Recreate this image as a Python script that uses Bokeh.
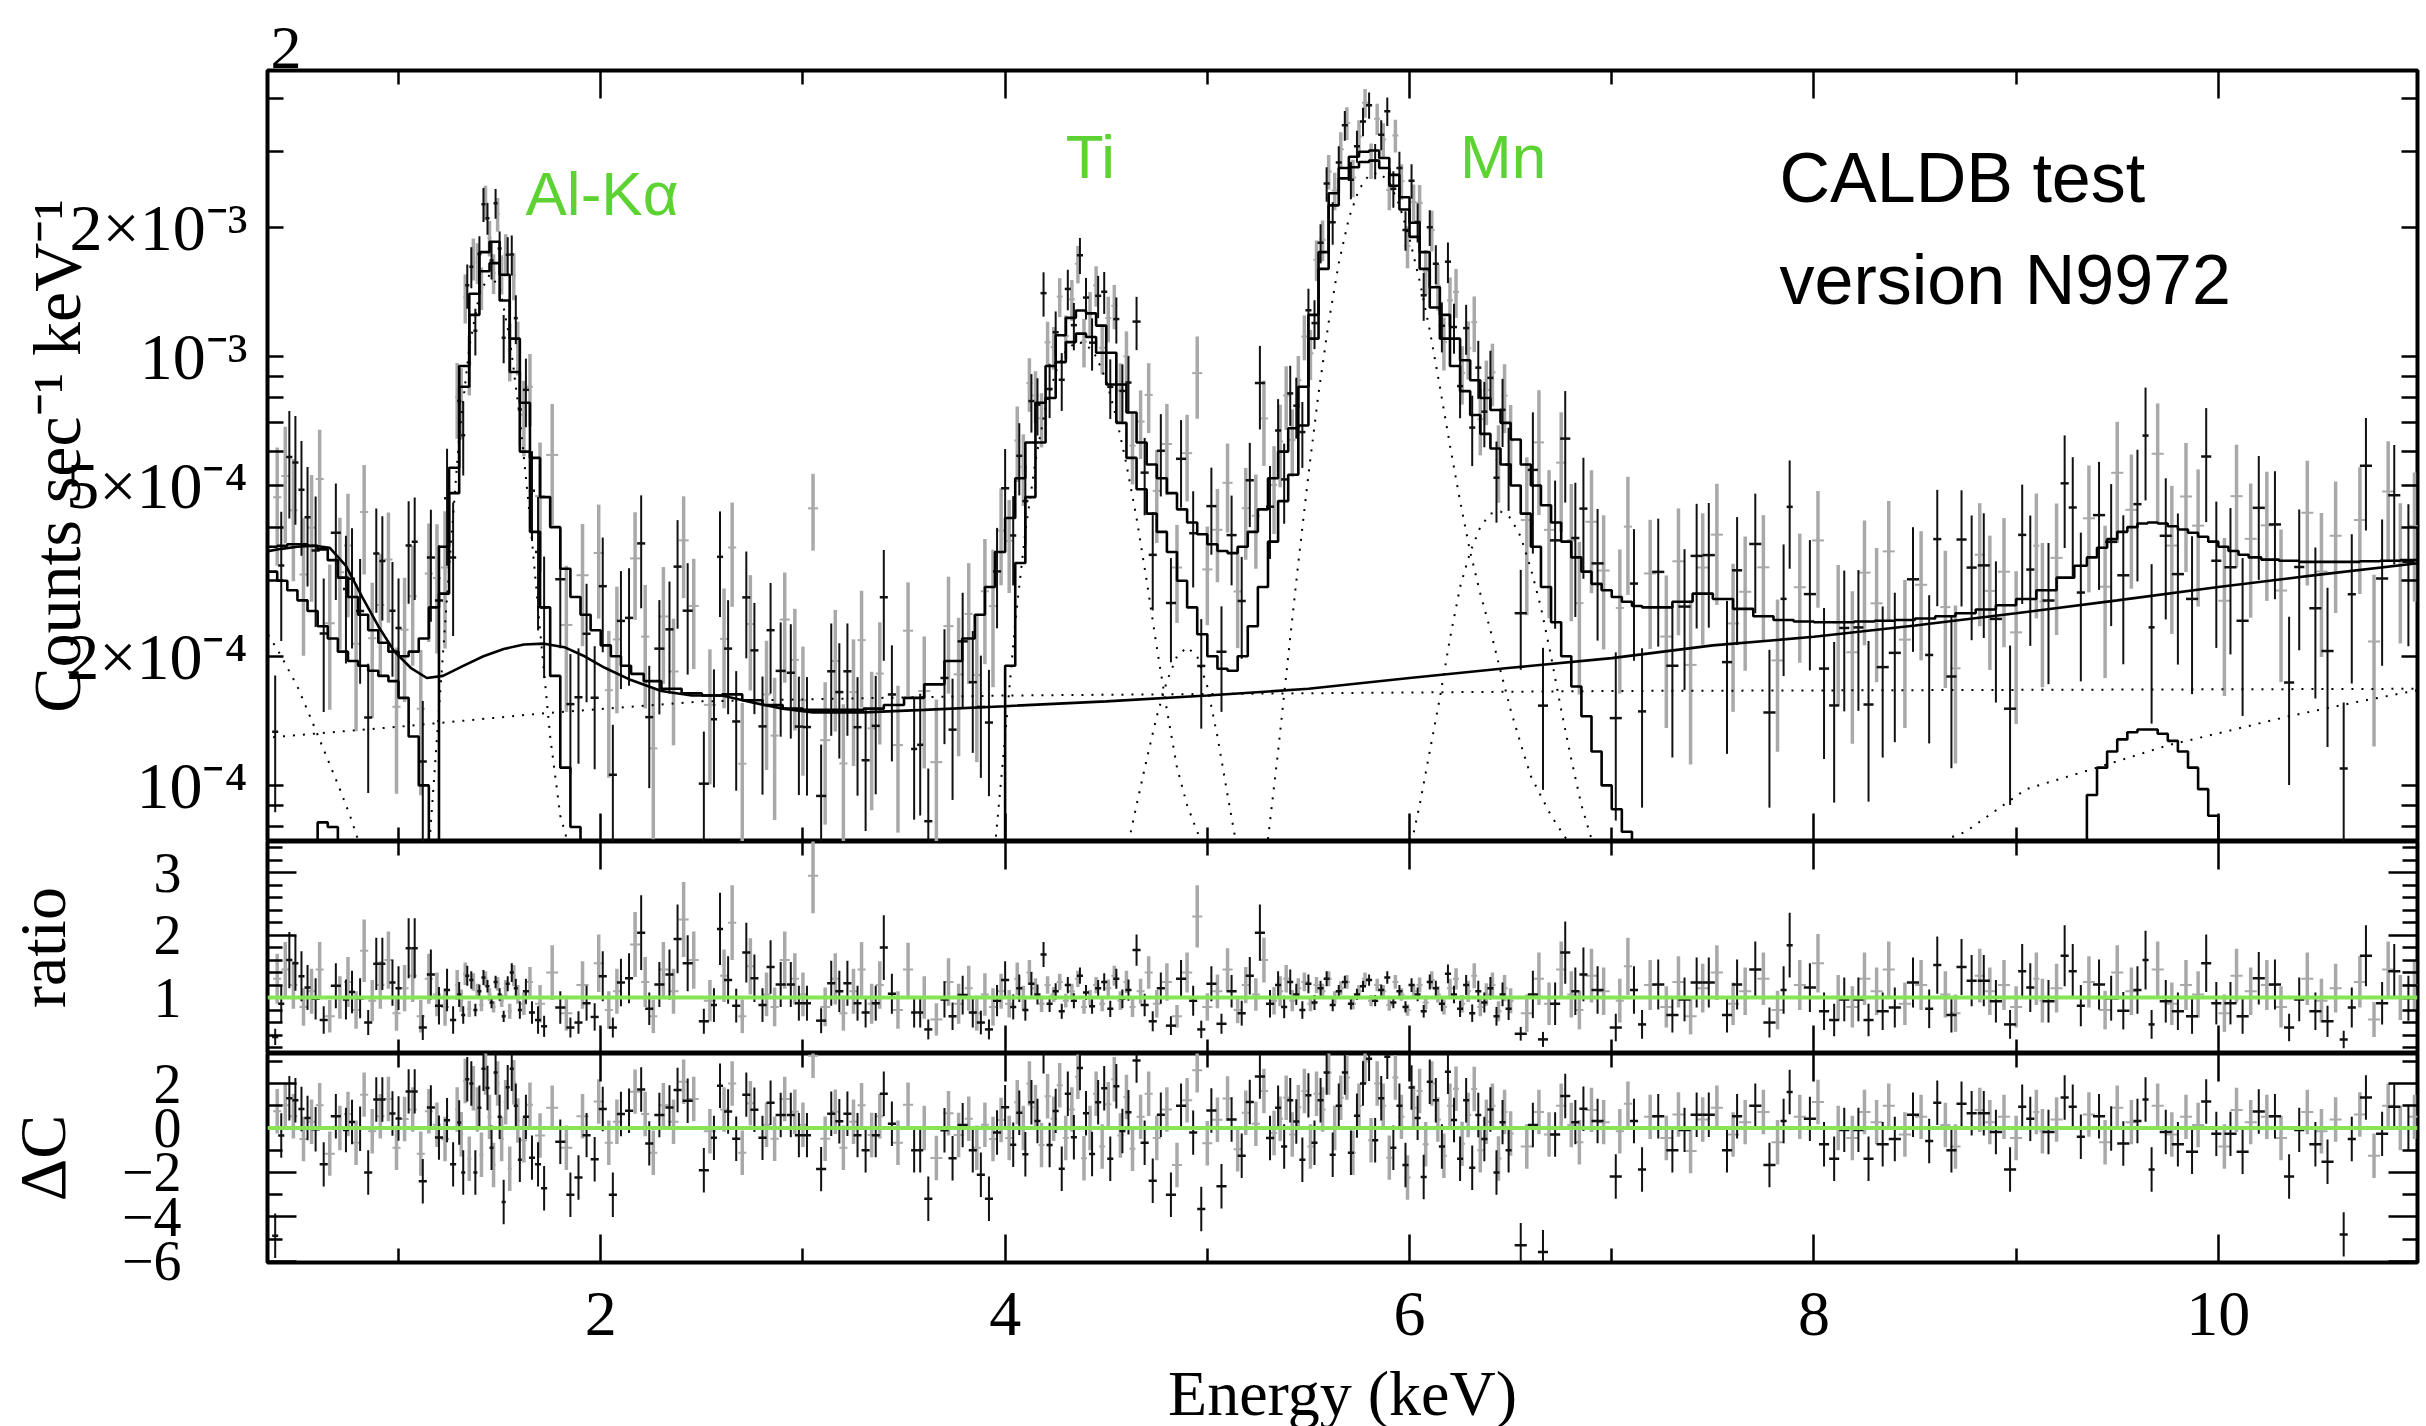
import numpy as np
from bokeh.plotting import figure
from bokeh.models import Range1d, FixedTicker, LinearAxis, LogAxis, Span, Label, ColumnDataSource
from bokeh.layouts import column
from bokeh.embed import file_html
from bokeh.resources import INLINE

# ---------------- ticks ----------------
X_MAJOR = [2, 4, 6, 8, 10]
X_MINOR = [1, 3, 5, 7, 9]
Y_TICKS = [1e-4, 2e-4, 5e-4, 1e-3, 2e-3]
Y_TICK_LABELS = ["10⁻⁴", "2×10⁻⁴", "5×10⁻⁴", "10⁻³", "2×10⁻³"]
Y_MINOR = [8e-5, 9e-5, 3e-4, 4e-4, 6e-4, 7e-4, 8e-4, 9e-4, 3e-3, 4e-3]
R_TICKS = [1, 2, 3]
R_MINOR = [0.2, 0.4, 0.6, 0.8, 1.2, 1.4, 1.6, 1.8, 2.2, 2.4, 2.6, 2.8, 3.2, 3.4]
D_TICKS = [-6, -4, -2, 0, 2]
D_TICK_LABELS = ["−6", "−4", "−2", "0", "2"]
D_MINOR = [-5, -3, -1, 1, 3]

# ---------------- total model (units of 1e-4 counts/s/keV) ----------------
TOT_E1 = [0.325, 0.375, 0.425, 0.475, 0.525, 0.575, 0.625, 0.675, 0.725, 0.775, 0.825,
          0.875, 0.925, 0.975, 1.025, 1.075, 1.125, 1.175, 1.225, 1.275, 1.325,
          1.375, 1.425, 1.475, 1.525, 1.575, 1.625, 1.675, 1.725, 1.775, 1.825,
          1.875, 1.925, 1.975, 2.025, 2.075, 2.125, 2.175]
TOT_V1 = [3.60, 3.60, 3.62, 3.65, 3.65, 3.62, 3.55, 3.35, 3.05, 2.75, 2.50,
          2.30, 2.15, 2.05, 2.00, 2.05, 2.20, 2.60, 3.60, 5.50, 9.50,
          14.0, 17.5, 18.5, 15.5, 11.0, 7.8, 5.8, 4.7, 4.0, 3.2,
          2.75, 2.5, 2.3, 2.12, 2.0, 1.9, 1.82]
TOT_E2 = [2.25, 2.35, 2.45, 2.55, 2.65, 2.75, 2.85, 2.95, 3.05, 3.15, 3.25, 3.35, 3.45, 3.55, 3.65, 3.75]
TOT_V2 = [1.75, 1.68, 1.64, 1.62, 1.63, 1.58, 1.54, 1.51, 1.50, 1.50, 1.50, 1.51, 1.54, 1.60, 1.72, 1.95]
TOT_E3 = [3.825, 3.875, 3.925, 3.975, 4.025, 4.075, 4.125, 4.175, 4.225, 4.275,
          4.325, 4.375, 4.425, 4.475, 4.525, 4.575, 4.625, 4.675, 4.725, 4.775,
          4.825, 4.875, 4.925, 4.975, 5.025, 5.075, 5.125, 5.175, 5.225, 5.275,
          5.325, 5.375, 5.425, 5.475, 5.525, 5.575, 5.625, 5.675, 5.725, 5.775,
          5.825, 5.875, 5.925, 5.975, 6.025, 6.075, 6.125, 6.175, 6.225, 6.275,
          6.325, 6.375, 6.425, 6.475, 6.525, 6.575, 6.625, 6.675, 6.725, 6.775,
          6.825, 6.875, 6.925, 6.975, 7.025, 7.075, 7.125, 7.175]
TOT_V3 = [2.2, 2.5, 2.9, 3.5, 4.2, 5.2, 6.3, 7.8, 9.5, 11.2,
          12.3, 12.8, 12.6, 11.8, 10.2, 8.6, 7.4, 6.3, 5.6, 5.2,
          4.8, 4.4, 4.1, 3.85, 3.65, 3.52, 3.48, 3.6, 3.9, 4.4,
          5.2, 6.0, 6.8, 8.5, 12.5, 17.5, 24.0, 27.5, 29.2, 30.0,
          30.2, 29.0, 26.5, 23.5, 20.5, 17.5, 14.5, 12.5, 11.0, 9.8,
          8.8, 8.0, 7.5, 7.0, 6.4, 5.6, 5.0, 4.5, 4.1, 3.7,
          3.4, 3.15, 2.95, 2.85, 2.75, 2.68, 2.62, 2.6]
TOT_E4 = [7.25, 7.35, 7.45, 7.55, 7.65, 7.75, 7.85, 7.95, 8.05, 8.15, 8.25,
          8.35, 8.45, 8.55, 8.65, 8.75, 8.85, 8.95, 9.05, 9.15, 9.25]
TOT_V4 = [2.6, 2.68, 2.8, 2.72, 2.58, 2.48, 2.43, 2.41, 2.4, 2.4, 2.41,
          2.42, 2.43, 2.45, 2.48, 2.52, 2.57, 2.63, 2.72, 2.85, 3.05]
TOT_E5 = [9.325, 9.375, 9.425, 9.475, 9.525, 9.575, 9.625, 9.675, 9.725, 9.775,
          9.825, 9.875, 9.925, 9.975, 10.025, 10.075, 10.125, 10.175]
TOT_V5 = [3.25, 3.4, 3.58, 3.75, 3.9, 4.0, 4.08, 4.1, 4.08, 4.02,
          3.95, 3.88, 3.8, 3.7, 3.6, 3.52, 3.45, 3.4]
TOT_E6 = [10.25, 10.35, 10.45, 10.55, 10.65, 10.75, 10.85, 10.95, 11.05]
TOT_V6 = [3.36, 3.34, 3.32, 3.32, 3.32, 3.33, 3.34, 3.35, 3.36]

# ---------------- line-only model (1e-4 units; 0.5 = below panel) ----------------
LIN_E1 = [0.325, 0.375, 0.425, 0.475, 0.525, 0.575, 0.625, 0.675, 0.725, 0.775,
          0.825, 0.875, 0.925, 0.975, 1.025, 1.075, 1.125, 1.175, 1.225, 1.275,
          1.325, 1.375, 1.425, 1.475, 1.525, 1.575, 1.625, 1.675, 1.725, 1.775,
          1.825, 1.875, 1.925]
LIN_V1 = [3.2, 3.15, 3.0, 2.85, 2.7, 2.55, 2.35, 2.2, 2.05, 1.95,
          1.9, 1.85, 1.8, 1.75, 1.6, 1.3, 1.0, 0.5, 2.8, 4.8,
          8.5, 12.5, 15.8, 16.5, 13.5, 9.2, 6.0, 3.9, 2.6, 1.8,
          1.1, 0.8, 0.5]
LIN_E2 = [3.925, 3.975, 4.025, 4.075, 4.125, 4.175, 4.225, 4.275, 4.325, 4.375,
          4.425, 4.475, 4.525, 4.575, 4.625, 4.675, 4.725, 4.775, 4.825, 4.875,
          4.925, 4.975, 5.025, 5.075, 5.125, 5.175, 5.225, 5.275, 5.325, 5.375,
          5.425, 5.475, 5.525, 5.575, 5.625, 5.675, 5.725, 5.775, 5.825, 5.875,
          5.925, 5.975, 6.025, 6.075, 6.125, 6.175, 6.225, 6.275, 6.325, 6.375,
          6.425, 6.475, 6.525, 6.575, 6.625, 6.675, 6.725, 6.775, 6.825, 6.875,
          6.925, 6.975, 7.025, 7.075, 7.125]
LIN_V2 = [0.5, 0.7, 1.9, 3.3, 4.7, 6.3, 8.0, 9.7, 10.8, 11.3,
          11.1, 10.2, 8.6, 7.0, 5.8, 4.9, 4.3, 3.9, 3.5, 3.0,
          2.6, 2.25, 2.0, 1.87, 1.85, 2.0, 2.35, 2.9, 3.7, 4.6,
          5.3, 6.9, 11.0, 16.0, 22.5, 26.0, 27.6, 28.4, 28.6, 27.5,
          25.0, 22.0, 19.0, 16.0, 13.0, 11.0, 9.5, 8.3, 7.3, 6.6,
          6.1, 5.6, 5.0, 4.3, 3.6, 2.9, 2.4, 2.0, 1.7, 1.45,
          1.2, 1.0, 0.88, 0.78, 0.5]
LIN_E3 = [9.325, 9.375, 9.425, 9.475, 9.525, 9.575, 9.625, 9.675, 9.725, 9.775,
          9.825, 9.875, 9.925, 9.975, 10.025]
LIN_V3 = [0.5, 0.95, 1.1, 1.2, 1.28, 1.33, 1.35, 1.35, 1.32, 1.27,
          1.2, 1.1, 0.98, 0.85, 0.5]
SMALL_E = [0.575, 0.625, 0.675, 0.725]
SMALL_V = [0.5, 0.82, 0.8, 0.5]

# ---------------- smooth continuum (1e-4 units) ----------------
CONT_E = [0.33, 0.42, 0.5, 0.58, 0.66, 0.74, 0.82, 0.9, 0.98, 1.06,
          1.14, 1.22, 1.32, 1.42, 1.52, 1.62, 1.72, 1.82, 1.92, 2.02,
          2.15, 2.3, 2.45, 2.6, 2.75, 2.9, 3.05, 3.3, 3.6, 4.0,
          4.5, 5.0, 5.5, 6.0, 6.5, 7.0, 7.5, 8.0, 8.5, 9.0,
          9.5, 10.0, 10.5, 11.05]
CONT_V = [3.5, 3.56, 3.6, 3.62, 3.58, 3.25, 2.75, 2.35, 2.05, 1.88,
          1.78, 1.8, 1.9, 2.0, 2.08, 2.13, 2.14, 2.1, 2.0, 1.88,
          1.76, 1.66, 1.62, 1.62, 1.56, 1.51, 1.48, 1.48, 1.5, 1.53,
          1.57, 1.62, 1.68, 1.78, 1.88, 1.98, 2.12, 2.22, 2.36, 2.52,
          2.7, 2.9, 3.1, 3.32]

# ---------------- dotted components (1e-4 units) ----------------
DOT_FLAT_E = [0.33, 1.0, 1.7, 2.5, 4.0, 7.0, 11.05]
DOT_FLAT_V = [1.29, 1.37, 1.47, 1.57, 1.62, 1.66, 1.68]
DOT_RISE_E = [8.5, 8.75, 9.05, 9.4, 9.75, 10.05, 10.35, 10.7, 11.05]
DOT_RISE_V = [0.7, 0.78, 0.98, 1.1, 1.24, 1.34, 1.45, 1.57, 1.69]
DOT_LOW_E = [0.33, 0.42, 0.5, 0.57, 0.64, 0.71, 0.76, 0.82]
DOT_LOW_V = [2.35, 2.0, 1.7, 1.42, 1.18, 0.98, 0.85, 0.7]
DOT_AL_E = [1.15, 1.2, 1.25, 1.3, 1.35, 1.4, 1.45, 1.5, 1.55, 1.6, 1.65, 1.7, 1.75, 1.8, 1.85]
DOT_AL_V = [0.7, 1.5, 3.2, 6.5, 10.5, 14.0, 15.5, 14.5, 11.0, 7.2, 4.2, 2.3, 1.3, 0.85, 0.7]
DOT_TIKA_E = [3.95, 4.0, 4.05, 4.1, 4.15, 4.2, 4.25, 4.3, 4.35, 4.4, 4.45,
              4.5, 4.55, 4.6, 4.65, 4.7, 4.75, 4.8, 4.85, 4.9, 4.95, 5.0]
DOT_TIKA_V = [0.72, 1.3, 2.4, 3.9, 5.7, 7.6, 9.2, 10.3, 10.8, 10.7, 10.0,
              8.8, 7.2, 5.6, 4.2, 3.0, 2.1, 1.5, 1.1, 0.9, 0.78, 0.7]
DOT_TIKB_E = [4.6, 4.65, 4.7, 4.75, 4.8, 4.85, 4.9, 4.95, 5.0, 5.05, 5.1, 5.15]
DOT_TIKB_V = [0.7, 0.9, 1.15, 1.45, 1.75, 2.0, 2.1, 2.0, 1.7, 1.3, 0.95, 0.7]
DOT_MNKA_E = [5.3, 5.35, 5.4, 5.45, 5.5, 5.55, 5.6, 5.65, 5.7, 5.75,
              5.8, 5.85, 5.9, 5.95, 6.0, 6.05, 6.1, 6.15, 6.2, 6.25,
              6.3, 6.35, 6.4, 6.45, 6.5, 6.55, 6.6, 6.7, 6.8]
DOT_MNKA_V = [0.75, 1.2, 2.0, 3.3, 5.3, 8.2, 12.0, 16.5, 21.0, 24.5,
              26.5, 26.8, 25.5, 22.5, 18.8, 15.0, 11.5, 8.5, 6.2, 4.6,
              3.5, 2.8, 2.3, 1.85, 1.5, 1.25, 1.05, 0.85, 0.72]
DOT_MNKB_E = [6.0, 6.05, 6.1, 6.15, 6.2, 6.25, 6.3, 6.35, 6.4, 6.45,
              6.5, 6.55, 6.6, 6.65, 6.7, 6.75, 6.8, 6.85, 6.9, 6.95]
DOT_MNKB_V = [0.7, 0.9, 1.2, 1.6, 2.2, 2.9, 3.5, 4.0, 4.3, 4.35,
              4.2, 3.8, 3.2, 2.6, 2.0, 1.5, 1.15, 0.9, 0.75, 0.65]

# ---------------- data set 1 (black): energy, ratio to model, ratio error ----------------
D1_E = [0.39, 0.42, 0.46, 0.49, 0.52, 0.55, 0.59, 0.63, 0.69, 0.74, 0.77, 0.81, 0.85, 0.89, 0.92, 0.97,
        1.00, 1.05, 1.08, 1.12, 1.16, 1.20, 1.24, 1.27,
        1.30, 1.32, 1.34, 1.36, 1.38, 1.40, 1.42, 1.44, 1.46, 1.48, 1.50, 1.52, 1.54, 1.56, 1.58, 1.60, 1.63, 1.66,
        1.69, 1.72, 1.80, 1.85, 1.89, 1.93, 1.97, 2.01, 2.06, 2.10, 2.14, 2.20, 2.24, 2.29, 2.34, 2.38,
        2.43, 2.51, 2.56, 2.59, 2.63, 2.67, 2.72, 2.76, 2.80, 2.84, 2.89, 2.94, 2.98, 3.02, 3.09, 3.14,
        3.18, 3.22, 3.27, 3.31, 3.36, 3.40, 3.44, 3.55, 3.58, 3.62, 3.70, 3.74, 3.79, 3.84, 3.88, 3.92,
        3.96, 4.00, 4.04, 4.07, 4.10, 4.13, 4.16, 4.19, 4.22, 4.25, 4.28, 4.31, 4.34, 4.37, 4.40, 4.43,
        4.46, 4.49, 4.52, 4.55, 4.58, 4.61, 4.65, 4.69, 4.73,
        4.77, 4.82, 4.87, 4.93, 4.97, 5.02, 5.07, 5.12, 5.17, 5.21, 5.26, 5.31,
        5.35, 5.38, 5.41, 5.44, 5.47, 5.50, 5.53, 5.56, 5.59, 5.62, 5.65, 5.68, 5.71, 5.74, 5.77, 5.80,
        5.83, 5.86, 5.89, 5.92, 5.95, 5.98, 6.01, 6.04, 6.07, 6.10, 6.13, 6.16, 6.19, 6.22, 6.25, 6.28,
        6.31, 6.34, 6.37, 6.40, 6.43, 6.46, 6.49,
        6.55, 6.61, 6.66, 6.72, 6.77, 6.82, 6.86, 6.93, 7.02, 7.11,
        7.15, 7.23, 7.30, 7.36, 7.42, 7.48, 7.57, 7.62, 7.71, 7.78,
        7.85, 7.88, 7.98, 8.05, 8.10, 8.15, 8.22, 8.27, 8.34, 8.40,
        8.49, 8.57, 8.61, 8.68, 8.73, 8.78, 8.84, 8.90, 8.97, 9.03,
        9.07, 9.16, 9.24, 9.28, 9.32, 9.41, 9.47, 9.53, 9.60, 9.64,
        9.67, 9.74, 9.80, 9.87, 9.94, 9.99, 10.06, 10.12, 10.20, 10.28,
        10.35, 10.40, 10.48, 10.54, 10.62, 10.66, 10.73, 10.81, 10.87, 10.94]
D1_R = [0.37, 0.90, 1.60, 1.55, 1.34, 1.16, 0.98, 0.64, 1.19, 0.97, 1.09, 0.99, 0.60, 1.54, 1.54, 1.24,
        1.15, 1.79, 1.79, 0.52, 1.37, 0.87, 1.12, 0.64,
        1.05, 0.72, 1.35, 1.28, 0.80, 1.10, 1.32, 1.18, 0.92, 1.25, 1.05, 0.70, 1.22, 1.40, 1.15, 0.80, 1.10, 0.76,
        0.64, 0.54, 0.84, 0.52, 0.60, 0.91, 0.69, 1.34, 0.52, 1.24, 1.31, 2.04, 0.82, 1.21, 1.37, 1.94,
        1.55, 0.62, 0.88, 2.10, 1.28, 0.87, 1.72, 1.31, 0.88, 1.49, 1.21, 1.21, 0.91, 0.91, 0.63, 1.23,
        1.10, 1.23, 0.91, 0.76, 0.91, 1.80, 1.06, 0.76, 0.76, 0.49, 0.97, 0.70, 1.04, 0.76, 0.60, 0.49,
        0.95, 1.28, 0.85, 1.15, 0.80, 1.22, 1.05, 1.69, 0.90, 1.10, 0.78, 1.20, 0.95, 1.35, 1.08, 0.86,
        1.15, 1.25, 0.82, 1.30, 0.98, 1.12, 1.76, 0.88, 0.62,
        1.15, 0.55, 1.30, 0.95, 0.49, 1.22, 0.58, 1.10, 0.75, 1.35, 2.04, 0.90,
        1.20, 0.85, 1.25, 1.05, 0.80, 1.22, 0.92, 1.15, 1.30, 0.88, 1.10, 1.25, 0.90, 1.05, 1.18, 1.28,
        0.95, 1.12, 1.32, 0.92, 1.10, 0.85, 1.20, 1.05, 0.78, 1.25, 1.15, 0.90, 1.38, 1.05, 0.82, 1.20,
        0.75, 1.10, 0.92, 1.15, 0.70, 1.05, 0.82,
        0.42, 1.05, 0.33, 0.90, 1.72, 1.10, 1.37, 1.12, 0.52, 1.12,
        0.57, 1.21, 0.72, 0.97, 1.24, 1.24, 0.72, 1.21, 1.45, 0.60,
        1.12, 1.84, 1.16, 0.78, 0.64, 0.97, 0.97, 0.64, 0.78, 0.84,
        1.24, 0.82, 1.52, 0.72, 1.49, 1.27, 1.27, 0.94, 0.57, 1.42,
        1.16, 0.94, 1.67, 1.42, 0.87, 1.21, 0.99, 0.79, 1.12, 1.60,
        0.57, 0.94, 0.78, 0.70, 1.55, 0.91, 0.91, 0.70, 1.31, 1.21,
        0.52, 0.97, 0.78, 0.62, 0.33, 0.84, 1.67, 0.91, 1.42, 0.99]
D1_S = [0.13, 0.30, 0.45, 0.44, 0.40, 0.36, 0.33, 0.22, 0.36, 0.32, 0.34, 0.32, 0.20, 0.42, 0.42, 0.37,
        0.35, 0.48, 0.48, 0.20, 0.40, 0.30, 0.34, 0.22,
        0.20, 0.14, 0.16, 0.14, 0.10, 0.11, 0.12, 0.10, 0.09, 0.10, 0.10, 0.09, 0.12, 0.15, 0.15, 0.14, 0.20, 0.18,
        0.22, 0.17, 0.26, 0.16, 0.18, 0.28, 0.22, 0.40, 0.16, 0.38, 0.40, 0.60, 0.26, 0.36, 0.40, 0.55,
        0.45, 0.20, 0.27, 0.58, 0.38, 0.27, 0.48, 0.38, 0.27, 0.43, 0.36, 0.36, 0.28, 0.28, 0.20, 0.36,
        0.33, 0.36, 0.28, 0.24, 0.28, 0.52, 0.32, 0.24, 0.24, 0.16, 0.29, 0.22, 0.31, 0.24, 0.19, 0.16,
        0.25, 0.30, 0.20, 0.22, 0.17, 0.19, 0.16, 0.20, 0.13, 0.13, 0.12, 0.13, 0.12, 0.13, 0.12, 0.12,
        0.13, 0.14, 0.13, 0.16, 0.15, 0.17, 0.25, 0.18, 0.16,
        0.25, 0.15, 0.30, 0.24, 0.14, 0.28, 0.16, 0.26, 0.20, 0.30, 0.45, 0.22,
        0.22, 0.18, 0.20, 0.17, 0.14, 0.15, 0.12, 0.12, 0.12, 0.10, 0.10, 0.10, 0.09, 0.09, 0.09, 0.09,
        0.09, 0.09, 0.10, 0.09, 0.10, 0.09, 0.11, 0.11, 0.10, 0.12, 0.12, 0.12, 0.15, 0.14, 0.13, 0.16,
        0.14, 0.17, 0.16, 0.18, 0.15, 0.19, 0.18,
        0.11, 0.38, 0.12, 0.34, 0.50, 0.38, 0.43, 0.38, 0.22, 0.38,
        0.23, 0.40, 0.28, 0.35, 0.40, 0.40, 0.28, 0.40, 0.45, 0.24,
        0.38, 0.52, 0.39, 0.30, 0.26, 0.35, 0.35, 0.26, 0.30, 0.32,
        0.40, 0.31, 0.46, 0.28, 0.45, 0.41, 0.41, 0.34, 0.23, 0.44,
        0.39, 0.34, 0.49, 0.44, 0.33, 0.40, 0.36, 0.30, 0.38, 0.47,
        0.23, 0.34, 0.30, 0.28, 0.46, 0.34, 0.34, 0.28, 0.42, 0.40,
        0.22, 0.35, 0.30, 0.25, 0.14, 0.32, 0.49, 0.34, 0.44, 0.36]

# ---------------- data set 2 (grey) ----------------
D2_E = [0.40, 0.44, 0.48, 0.53, 0.57, 0.61, 0.66, 0.71, 0.75, 0.79, 0.83, 0.87, 0.91, 0.95, 0.99, 1.03,
        1.07, 1.11, 1.15, 1.19, 1.23,
        1.29, 1.31, 1.33, 1.35, 1.37, 1.39, 1.41, 1.43, 1.45, 1.47, 1.49, 1.51, 1.53, 1.55, 1.57, 1.59, 1.62, 1.65,
        1.70, 1.76, 1.83, 1.91, 1.99, 2.04, 2.08, 2.17, 2.22, 2.26, 2.31, 2.36, 2.41, 2.46, 2.54, 2.61,
        2.65, 2.70, 2.74, 2.82, 2.86, 2.91, 2.96, 3.00, 3.05, 3.11, 3.16, 3.20, 3.25, 3.29, 3.34, 3.38,
        3.47, 3.52, 3.60, 3.66, 3.72, 3.77, 3.82, 3.86, 3.90, 3.94,
        3.98, 4.02, 4.06, 4.09, 4.12, 4.15, 4.18, 4.21, 4.24, 4.27, 4.30, 4.33, 4.36, 4.39, 4.42, 4.45,
        4.48, 4.51, 4.54, 4.57, 4.60, 4.63, 4.67, 4.71,
        4.75, 4.80, 4.85, 4.90, 4.95, 5.00, 5.05, 5.10, 5.15, 5.19, 5.24, 5.28, 5.33,
        5.36, 5.39, 5.42, 5.45, 5.48, 5.51, 5.54, 5.57, 5.60, 5.63, 5.66, 5.69, 5.72, 5.75, 5.78, 5.81,
        5.84, 5.87, 5.90, 5.93, 5.96, 5.99, 6.02, 6.05, 6.08, 6.11, 6.14, 6.17, 6.20, 6.23, 6.26, 6.29,
        6.32, 6.35, 6.38, 6.41, 6.44, 6.47, 6.50,
        6.58, 6.64, 6.69, 6.75, 6.80, 6.84, 6.90, 6.96, 7.04, 7.08,
        7.19, 7.27, 7.33, 7.39, 7.45, 7.52, 7.60, 7.66, 7.75, 7.82,
        7.93, 8.02, 8.12, 8.19, 8.25, 8.31, 8.37, 8.45, 8.53, 8.65,
        8.70, 8.82, 8.87, 8.94, 9.00, 9.10, 9.13, 9.20, 9.36, 9.44,
        9.50, 9.57, 9.70, 9.77, 9.84, 9.90, 10.03, 10.09, 10.16, 10.24,
        10.31, 10.44, 10.51, 10.58, 10.70, 10.77, 10.84, 10.90, 10.97]
D2_R = [1.30, 1.45, 1.20, 0.85, 1.10, 1.45, 0.70, 1.00, 1.25, 0.80, 1.75, 0.95, 1.20, 1.60, 0.75, 1.15,
        1.35, 0.70, 1.30, 1.05, 0.85,
        1.20, 0.95, 1.38, 0.82, 1.25, 1.10, 0.88, 1.30, 1.05, 0.85, 1.22, 0.95, 1.15, 0.78, 1.35, 1.05, 0.90, 1.25,
        0.90, 1.40, 0.75, 1.20, 1.55, 0.80, 1.10, 1.85, 1.25, 0.70, 1.45, 1.10, 2.25, 1.60, 0.95, 1.35,
        2.20, 0.70, 1.50, 1.05, 0.85, 1.60, 1.30, 1.05, 2.95, 0.85, 1.30, 0.75, 1.10, 1.45, 0.90, 1.20,
        0.80, 1.45, 1.00, 0.65, 1.25, 0.90, 1.15, 0.75, 1.05, 0.85,
        1.10, 0.90, 1.30, 1.00, 1.40, 1.15, 0.90, 1.20, 1.05, 1.25, 0.95, 1.10, 1.30, 0.85, 1.00, 1.20,
        0.90, 1.15, 1.35, 0.95, 1.25, 0.85, 1.10, 1.40,
        0.90, 1.25, 0.70, 1.40, 2.30, 0.85, 1.10, 1.45, 0.80, 1.20, 1.05, 1.60, 0.95,
        1.10, 1.30, 0.95, 1.15, 1.25, 0.90, 1.20, 1.10, 1.30, 1.00, 1.15, 1.25, 0.90, 1.10, 1.30, 0.95,
        1.20, 1.10, 0.88, 1.25, 1.05, 0.80, 1.10, 1.20, 0.92, 1.28, 1.05, 0.85, 1.15, 1.30, 0.90, 1.10,
        1.35, 0.85, 1.05, 1.20, 0.78, 1.15, 0.95,
        0.75, 1.30, 0.90, 1.45, 1.05, 0.80, 1.35, 1.10, 0.95, 1.50,
        1.20, 0.85, 1.25, 0.70, 1.15, 1.40, 0.90, 1.10, 1.30, 0.80,
        1.20, 1.55, 1.00, 0.85, 1.30, 1.10, 1.45, 0.90, 1.20, 1.05,
        0.75, 1.35, 1.10, 1.20, 0.85, 1.30, 0.95, 1.15, 1.25, 0.80,
        1.40, 1.10, 1.45, 0.90, 1.20, 1.05, 0.75, 1.35, 1.10, 1.20,
        0.85, 1.30, 0.95, 1.15, 1.25, 0.65, 1.45, 1.00, 1.20]
D2_S = [0.40, 0.44, 0.38, 0.30, 0.36, 0.44, 0.26, 0.34, 0.40, 0.30, 0.50, 0.33, 0.38, 0.46, 0.28, 0.37,
        0.42, 0.26, 0.40, 0.35, 0.30,
        0.24, 0.18, 0.18, 0.13, 0.14, 0.12, 0.10, 0.12, 0.10, 0.09, 0.11, 0.10, 0.13, 0.12, 0.17, 0.15, 0.18, 0.24,
        0.30, 0.44, 0.28, 0.38, 0.46, 0.30, 0.36, 0.52, 0.40, 0.27, 0.44, 0.36, 0.60, 0.46, 0.33, 0.42,
        0.60, 0.27, 0.45, 0.35, 0.31, 0.46, 0.41, 0.35, 0.60, 0.31, 0.41, 0.28, 0.36, 0.44, 0.32, 0.38,
        0.30, 0.43, 0.34, 0.26, 0.38, 0.32, 0.36, 0.28, 0.34, 0.30,
        0.28, 0.22, 0.26, 0.19, 0.20, 0.16, 0.13, 0.14, 0.12, 0.13, 0.11, 0.12, 0.13, 0.11, 0.12, 0.13,
        0.12, 0.14, 0.16, 0.15, 0.18, 0.16, 0.20, 0.26,
        0.22, 0.30, 0.18, 0.32, 0.50, 0.22, 0.27, 0.34, 0.21, 0.29, 0.26, 0.36, 0.22,
        0.24, 0.22, 0.17, 0.16, 0.15, 0.12, 0.13, 0.12, 0.12, 0.10, 0.11, 0.11, 0.09, 0.10, 0.10, 0.09,
        0.10, 0.10, 0.09, 0.11, 0.10, 0.09, 0.11, 0.12, 0.11, 0.14, 0.13, 0.12, 0.15, 0.17, 0.14, 0.17,
        0.20, 0.15, 0.18, 0.20, 0.16, 0.21, 0.20,
        0.30, 0.42, 0.34, 0.45, 0.37, 0.31, 0.43, 0.38, 0.35, 0.46,
        0.40, 0.33, 0.41, 0.29, 0.39, 0.44, 0.34, 0.38, 0.42, 0.31,
        0.40, 0.47, 0.36, 0.33, 0.42, 0.38, 0.45, 0.34, 0.40, 0.37,
        0.30, 0.43, 0.38, 0.40, 0.33, 0.42, 0.35, 0.39, 0.41, 0.31,
        0.44, 0.38, 0.45, 0.34, 0.40, 0.37, 0.30, 0.43, 0.38, 0.40,
        0.33, 0.42, 0.35, 0.39, 0.41, 0.28, 0.45, 0.36, 0.40]

UNIT = 1e-4
GREEN_TEXT = "#5cd332"
GREEN_LINE = "#86e455"
SERIF = "Liberation Serif"
SANS = "Liberation Sans"


def arr(v):
    return np.asarray(v, dtype=float)


TOT_E = arr(TOT_E1 + TOT_E2 + TOT_E3 + TOT_E4 + TOT_E5 + TOT_E6)
TOT = arr(TOT_V1 + TOT_V2 + TOT_V3 + TOT_V4 + TOT_V5 + TOT_V6) * UNIT


def build(E, R, S):
    E, R, S = arr(E), arr(R), arr(S)
    n = min(len(E), len(R), len(S))
    E, R, S = E[:n], R[:n], S[:n]
    o = np.argsort(E)
    E, R, S = E[o], R[o], S[o]
    m = np.interp(E, TOT_E, TOT)
    y = R * m
    dy = S * m
    g = np.diff(E)
    gl = np.concatenate([[g[0]], g])
    gr = np.concatenate([g, [g[-1]]])
    hw = np.minimum(0.5 * np.minimum(gl, gr), 0.03)
    d = (R - 1.0) / S
    return ColumnDataSource(dict(E=E, xl=E - hw, xr=E + hw, y=y, ylo=np.maximum(y - dy, 1e-7),
                                 yhi=y + dy, r=R, rlo=R - S, rhi=R + S, d=d, dlo=d - 1.0, dhi=d + 1.0))


SRC1 = build(D1_E, D1_R, D1_S)
SRC2 = build(D2_E, D2_R, D2_S)

XR = Range1d(0.352, 10.985)
COMMON = dict(frame_width=2150, x_range=XR, output_backend="svg", toolbar_location=None,
              min_border_left=267, min_border_right=4,
              background_fill_color="white", border_fill_color="white")

p1 = figure(frame_height=771, y_axis_type="log", y_range=Range1d(7.4e-5, 4.64e-3),
            min_border_top=70, min_border_bottom=0, **COMMON)
p2 = figure(frame_height=212, y_range=Range1d(0.104, 3.5), min_border_top=0, min_border_bottom=0, **COMMON)
p3 = figure(frame_height=209, y_range=Range1d(-6.05, 3.35), min_border_top=0, min_border_bottom=0, **COMMON)


def tick_style(ax, major, minor, tin, mtin):
    ax.ticker = FixedTicker(ticks=major, minor_ticks=minor)
    ax.axis_line_color = None
    ax.major_tick_in = tin
    ax.major_tick_out = 0
    ax.minor_tick_in = mtin
    ax.minor_tick_out = 0
    ax.major_tick_line_width = 2.5
    ax.minor_tick_line_width = 2.5
    ax.major_tick_line_color = "black"
    ax.minor_tick_line_color = "black"


def hide_labels(ax):
    ax.major_label_text_font_size = "0px"
    ax.major_label_text_color = None
    ax.major_label_standoff = 0
    ax.axis_label = None


def show_labels(ax, standoff, size="60px"):
    ax.major_label_text_font = SERIF
    ax.major_label_text_font_size = size
    ax.major_label_text_color = "black"
    ax.major_label_standoff = standoff


def axis_title(ax, text, size, standoff):
    ax.axis_label = text
    ax.axis_label_text_font = SERIF
    ax.axis_label_text_font_size = size
    ax.axis_label_text_font_style = "normal"
    ax.axis_label_text_color = "black"
    ax.axis_label_standoff = standoff


for p in (p1, p2, p3):
    p.grid.visible = False
    p.outline_line_color = "black"
    p.outline_line_width = 4
    p.add_layout(LinearAxis(), "above")
    if p is p1:
        p.add_layout(LogAxis(), "right")
    else:
        p.add_layout(LinearAxis(), "right")
    for ax in p.above + p.below:
        tick_style(ax, X_MAJOR, X_MINOR, 28, 14)
    for ax in p.above:
        hide_labels(ax)
    for ax in p.right:
        hide_labels(ax)

for ax in p1.below + p2.below:
    hide_labels(ax)

tick_style(p1.left[0], Y_TICKS, Y_MINOR, 16, 16)
tick_style(p1.right[0], Y_TICKS, Y_MINOR, 16, 16)
tick_style(p2.left[0], R_TICKS, R_MINOR, 29, 15)
tick_style(p2.right[0], R_TICKS, R_MINOR, 29, 15)
tick_style(p3.left[0], D_TICKS, D_MINOR, 29, 15)
tick_style(p3.right[0], D_TICKS, D_MINOR, 29, 15)

ax = p1.left[0]
show_labels(ax, 20, "66px")
ax.major_label_overrides = dict(zip(Y_TICKS, Y_TICK_LABELS))
axis_title(ax, "Counts sec⁻¹ keV⁻¹", "68px", -32)

ax = p2.left[0]
show_labels(ax, 86, "56px")
axis_title(ax, "ratio", "66px", 72)

ax = p3.left[0]
show_labels(ax, 86, "56px")
ax.major_label_overrides = dict(zip(D_TICKS, D_TICK_LABELS))
axis_title(ax, "ΔC", "66px", 40)

ax = p3.below[0]
show_labels(ax, 30, "64px")
axis_title(ax, "Energy (keV)", "64px", 20)

# fragment of a label visible above the top-left corner
p1.title.text = "2"
p1.title.text_font = SERIF
p1.title.text_font_size = "62px"
p1.title.text_font_style = "normal"
p1.title.text_color = "black"
p1.title.align = "left"
p1.title.offset = 3
p1.title.standoff = 6

GREY = "#a9a9a9"
BLACK = "#111111"

# data points
for p, yk, lo, hi in ((p1, "y", "ylo", "yhi"), (p2, "r", "rlo", "rhi"), (p3, "d", "dlo", "dhi")):
    p.segment(x0="E", y0=lo, x1="E", y1=hi, source=SRC2, line_color=GREY, line_width=3.5)
    p.segment(x0="xl", y0=yk, x1="xr", y1=yk, source=SRC2, line_color=GREY, line_width=2)
    p.segment(x0="E", y0=lo, x1="E", y1=hi, source=SRC1, line_color=BLACK, line_width=2)
    p.segment(x0="xl", y0=yk, x1="xr", y1=yk, source=SRC1, line_color=BLACK, line_width=2.5)

# models
p1.step(TOT_E, TOT, mode="center", line_color="black", line_width=2.6)
for xs, vs in ((LIN_E1, LIN_V1), (LIN_E2, LIN_V2), (LIN_E3, LIN_V3), (SMALL_E, SMALL_V)):
    p1.step(arr(xs), arr(vs) * UNIT, mode="center", line_color="black", line_width=2.6)
p1.line(arr(CONT_E), arr(CONT_V) * UNIT, line_color="black", line_width=2.6)
for xs, vs in ((DOT_FLAT_E, DOT_FLAT_V), (DOT_RISE_E, DOT_RISE_V), (DOT_LOW_E, DOT_LOW_V),
               (DOT_AL_E, DOT_AL_V), (DOT_TIKA_E, DOT_TIKA_V), (DOT_TIKB_E, DOT_TIKB_V),
               (DOT_MNKA_E, DOT_MNKA_V), (DOT_MNKB_E, DOT_MNKB_V)):
    p1.line(arr(xs), arr(vs) * UNIT, line_color="black", line_width=2, line_dash="2 8")

p2.add_layout(Span(location=1, dimension="width", line_color=GREEN_LINE, line_width=4))
p3.add_layout(Span(location=0, dimension="width", line_color=GREEN_LINE, line_width=4))

# annotations (y = vertical centre of the text)
for txt, xx, yy in (("Al-Kα", 1.628, 2.40e-3), ("Ti", 4.30, 2.92e-3), ("Mn", 6.25, 2.92e-3)):
    p1.add_layout(Label(x=xx, y=yy, text=txt, text_font=SANS, text_font_size="62px",
                        text_color=GREEN_TEXT, text_baseline="middle"))
p1.add_layout(Label(x=7.83, y=2.60e-3, text="CALDB test", text_font=SANS, text_font_size="70px",
                    text_color="black", text_baseline="middle"))
p1.add_layout(Label(x=7.83, y=1.51e-3, text="version N9972", text_font=SANS, text_font_size="70px",
                    text_color="black", text_baseline="middle"))

layout = column(p1, p2, p3, spacing=0)
open("out.html", "w").write(file_html(layout, INLINE))
